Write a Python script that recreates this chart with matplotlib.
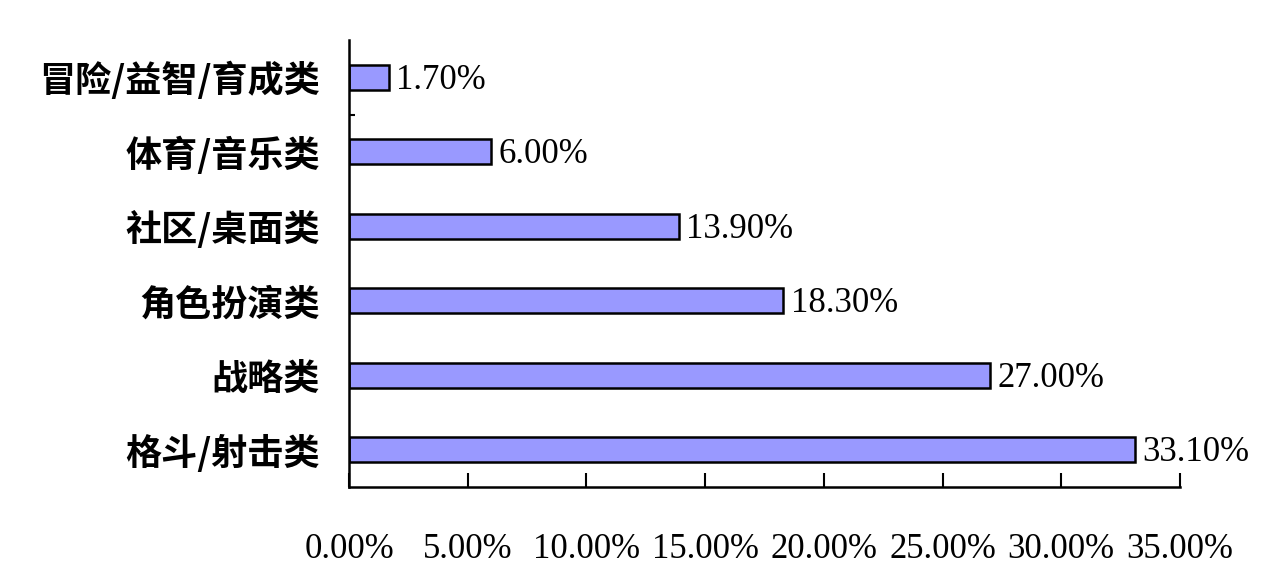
import matplotlib.pyplot as plt
from matplotlib.ticker import FixedLocator

# game genres, top to bottom as in the chart
categories = ['冒险/益智/育成类', '体育/音乐类', '社区/桌面类', '角色扮演类', '战略类', '格斗/射击类']
values = [1.70, 6.00, 13.90, 18.30, 27.00, 33.10]
xticks = [0, 5, 10, 15, 20, 25, 30, 35]
xtick_labels = ['%.2f%%' % t for t in xticks]

cjk = ['Noto Sans CJK SC', 'DejaVu Sans']
num_font = 'Liberation Serif'

fig = plt.figure(figsize=(12.72, 5.88), dpi=100)
ax = fig.add_axes([349 / 1272, 101 / 588, 831 / 1272, 447 / 588])

ypos = list(range(len(categories)))
ax.barh(ypos, values, height=0.34, color='#9999FF', edgecolor='black', linewidth=1.8)

ax.set_ylim(len(categories) - 0.5, -0.5)
ax.set_xlim(0, 35)

# value labels at bar ends
for y, v in zip(ypos, values):
    ax.text(v + 0.3, y + 0.04, '%.2f%%' % v, va='center', ha='left',
            fontsize=25, family=num_font, color='black')

ax.set_yticks(ypos)
ax.set_yticklabels(categories, family=cjk, fontsize=26, fontweight='bold')
ax.tick_params(axis='y', length=0, pad=21)
ax.yaxis.set_minor_locator(FixedLocator([0.5]))
ax.tick_params(axis='y', which='minor', direction='in', length=4, width=1.5)

ax.set_xticks(xticks)
ax.set_xticklabels(xtick_labels, family=num_font, fontsize=25)
ax.tick_params(axis='x', direction='in', length=10, width=1.5, pad=33)

for side in ['top', 'right']:
    ax.spines[side].set_visible(False)
for side in ['left', 'bottom']:
    ax.spines[side].set_linewidth(1.8)

fig.savefig('out.png', dpi=100)
